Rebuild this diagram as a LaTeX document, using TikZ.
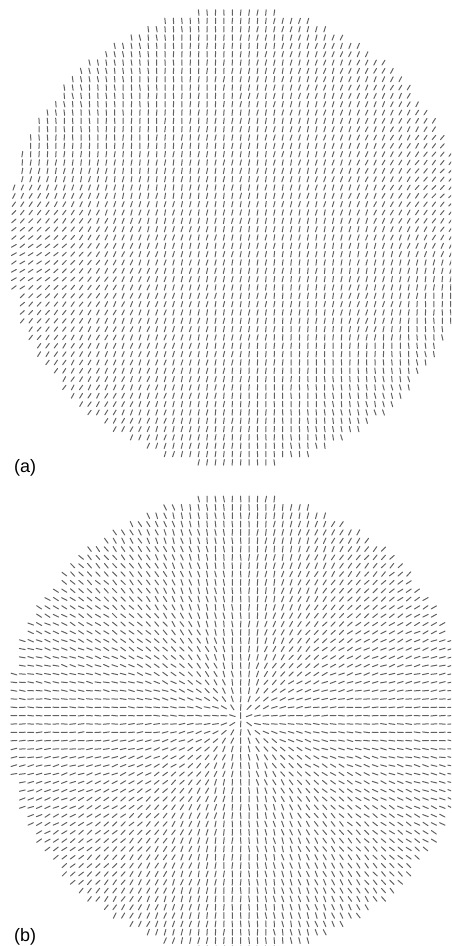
\documentclass[tikz,border=0pt]{standalone}
\usepackage{fontspec}
\setmainfont{Liberation Sans}
\tikzset{
  seg/.style={line width=1pt, draw=black!62, line cap=round},
  lab/.style={anchor=base west, inner sep=0pt, font=\fontsize{18}{18}\selectfont}
}
\begin{document}
\begin{tikzpicture}[x=1pt,y=1pt]
\useasboundingbox (0,0) rectangle (451,946);
\clip (0,0) rectangle (451,946);
\pgfmathsetseed{7}
% ---------- (a) : nearly vertical field ----------
\foreach \r in {-27,...,27}{
  \foreach \c in {0,...,53}{
    \pgfmathsetmacro{\i}{\c-26.5}
    \pgfmathsetmacro{\dd}{\i*\i+\r*\r}
    \ifdim \dd pt < 750.8pt
      \pgfmathsetmacro{\u}{\i*8.4/229}
      \pgfmathsetmacro{\v}{\r*8.33/229}
      \pgfmathsetmacro{\ga}{exp(-((\u+1)/0.45)^2-((\v+0.05)/0.3)^2)}
      \pgfmathsetmacro{\gb}{exp(-((\u-1)/0.4)^2-((\v-0.15)/0.3)^2)}
      \pgfmathsetmacro{\gc}{exp(-((\u-0.6)/0.18)^2-((\v+0.35)/0.18)^2)}
      \pgfmathsetmacro{\ph}{90-12+3*\u-45*\u*\v+8*\v*\v-40*\ga-28*\gb-18*\gc+5*rand}
      \pgfmathsetmacro{\qh}{\ph+180}
      \pgfmathsetmacro{\px}{236.5+\i*8.4}
      \pgfmathsetmacro{\py}{708.5+\r*8.33}
      \draw[seg] (\px,\py) ++(\ph:2.8) -- ++(\qh:5.6);
    \fi
  }
}
% ---------- (b) : radial field ----------
\foreach \r in {-27,...,27}{
  \foreach \c in {0,...,53}{
    \pgfmathsetmacro{\i}{\c-26.5}
    \pgfmathsetmacro{\dd}{\i*\i+\r*\r}
    \ifdim \dd pt < 750.8pt
      \pgfmathsetmacro{\px}{236.5+\i*8.4}
      \pgfmathsetmacro{\py}{222+\r*8.33}
      \pgfmathsetmacro{\ph}{atan2(\py-227.6,\px-240.7)+7*rand}
      \pgfmathsetmacro{\qh}{\ph+180}
      \draw[seg] (\px,\py) ++(\ph:3) -- ++(\qh:6);
    \fi
  }
}
\node[lab] (la) at (14,473.3) {(a)};
\node[lab] (lb) at (14,4.3) {(b)};
\end{tikzpicture}
\end{document}
